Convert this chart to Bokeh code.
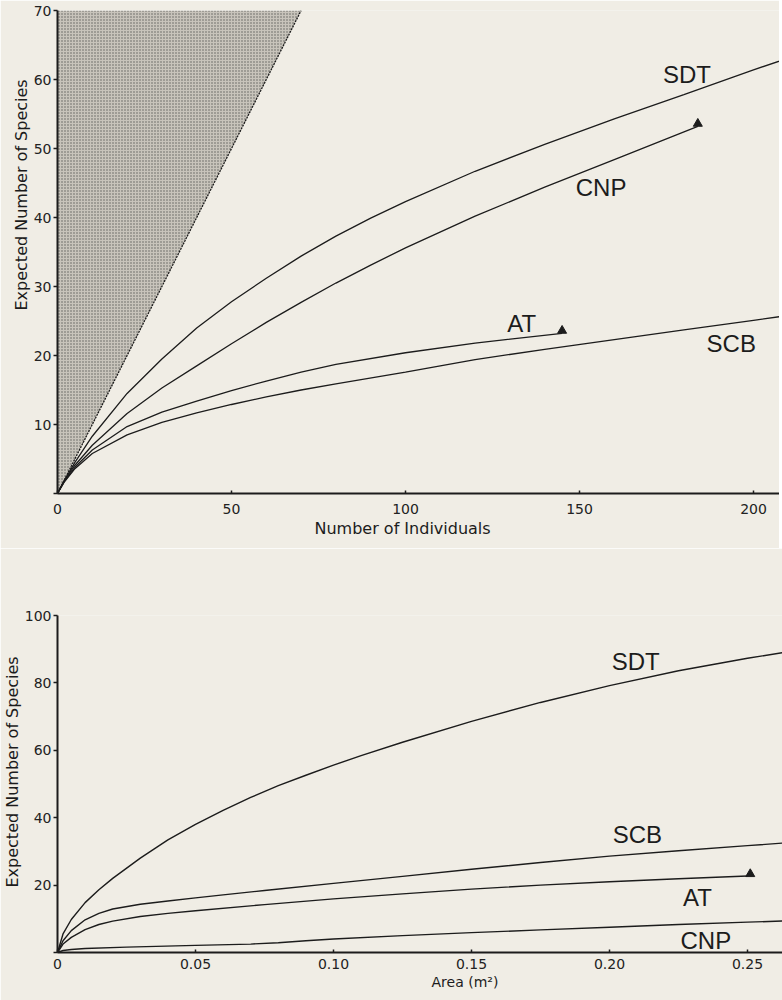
from bokeh.plotting import figure
from bokeh.layouts import column
from bokeh.models import FixedTicker, Range1d, Title
from bokeh.core.properties import value
from bokeh.embed import file_html
from bokeh.resources import INLINE

BG = "#f0ede5"
INK = "#1c1c1c"

# ---------------- Top panel: expected species vs number of individuals
sdt_n_x = [0, 2, 5, 10, 20, 30, 40, 50, 60, 70, 80, 90, 100, 120, 140, 160, 180, 200, 210]
sdt_n_y = [0, 1.9, 4.5, 8.3, 14.5, 19.5, 24.0, 27.8, 31.2, 34.4, 37.3, 39.9, 42.3, 46.7, 50.6, 54.3, 57.8, 61.4, 63.1]

cnp_n_x = [0, 2, 5, 10, 20, 30, 40, 50, 60, 70, 80, 90, 100, 120, 140, 160, 184]
cnp_n_y = [0, 1.9, 4.1, 7.0, 11.6, 15.3, 18.5, 21.7, 24.8, 27.7, 30.5, 33.1, 35.6, 40.2, 44.4, 48.4, 53.2]

at_n_x = [0, 2, 5, 10, 20, 30, 40, 50, 60, 70, 80, 100, 120, 145]
at_n_y = [0, 1.8, 3.8, 6.3, 9.7, 11.8, 13.4, 14.9, 16.3, 17.6, 18.7, 20.4, 21.8, 23.2]

scb_n_x = [0, 2, 5, 10, 20, 30, 40, 50, 60, 70, 80, 100, 120, 140, 160, 180, 200, 210]
scb_n_y = [0, 1.7, 3.6, 5.8, 8.5, 10.3, 11.7, 12.9, 14.0, 15.0, 15.9, 17.6, 19.4, 20.9, 22.3, 23.7, 25.1, 25.8]

# curve ends (triangles)
top_end_x = [184, 145]
top_end_y = [53.6, 23.6]

# region where species cannot exceed individuals (S <= N)
bound_x = [0, 70]
bound_y = [0, 70]

top_names = ["SDT", "CNP", "AT", "SCB"]
top_name_x = [180.9, 156.2, 133.4, 193.6]
top_name_y = [60.7, 44.4, 24.6, 21.7]

top_x_ticks = [0, 50, 100, 150, 200]
top_x_labels = ["0", "50", "100", "150", "200"]
top_y_ticks = [0, 10, 20, 30, 40, 50, 60, 70]
top_y_labels = ["", "10", "20", "30", "40", "50", "60", "70"]

# ---------------- Bottom panel: expected species vs area
sdt_a_x = [0, 0.002, 0.005, 0.01, 0.015, 0.02, 0.03, 0.04, 0.05, 0.06, 0.07, 0.08, 0.09, 0.10,
           0.11, 0.125, 0.15, 0.175, 0.20, 0.225, 0.25, 0.265]
sdt_a_y = [0, 5.5, 9.8, 14.8, 18.6, 22.0, 28.0, 33.4, 38.0, 42.2, 46.0, 49.5, 52.6, 55.6,
           58.4, 62.4, 68.6, 74.2, 79.2, 83.6, 87.3, 89.3]

scb_a_x = [0, 0.002, 0.005, 0.01, 0.015, 0.02, 0.03, 0.04, 0.05, 0.06, 0.075, 0.10, 0.125,
           0.15, 0.175, 0.20, 0.225, 0.25, 0.265]
scb_a_y = [0, 3.5, 6.5, 9.7, 11.6, 12.9, 14.3, 15.3, 16.2, 17.1, 18.4, 20.5, 22.6,
           24.7, 26.7, 28.6, 30.2, 31.7, 32.6]

at_a_x = [0, 0.002, 0.005, 0.01, 0.015, 0.02, 0.03, 0.04, 0.05, 0.075, 0.10, 0.125, 0.15,
          0.175, 0.20, 0.225, 0.25]
at_a_y = [0, 2.5, 4.5, 6.8, 8.3, 9.3, 10.7, 11.6, 12.4, 14.2, 15.9, 17.4, 18.8,
          20.0, 21.0, 21.9, 22.7]

cnp_a_x = [0, 0.002, 0.005, 0.01, 0.025, 0.05, 0.07, 0.08, 0.09, 0.10, 0.125, 0.15, 0.175,
           0.20, 0.225, 0.25, 0.265]
cnp_a_y = [0, 0.6, 0.9, 1.2, 1.6, 2.1, 2.5, 2.9, 3.5, 4.0, 5.0, 5.9, 6.7,
           7.5, 8.3, 9.0, 9.4]

bot_end_x = [0.251]
bot_end_y = [23.3]

bot_names = ["SDT", "SCB", "AT", "CNP"]
bot_name_x = [0.2095, 0.2101, 0.2319, 0.2349]
bot_name_y = [86.4, 34.9, 16.4, 3.6]

bot_x_ticks = [0, 0.05, 0.10, 0.15, 0.20, 0.25]
bot_x_labels = ["0", "0.05", "0.10", "0.15", "0.20", "0.25"]
bot_y_ticks = [0, 20, 40, 60, 80, 100]
bot_y_labels = ["", "20", "40", "60", "80", "100"]

TICK_FONT = "DejaVu Sans"
LABEL_FONT = "DejaVu Sans"
NAME_FONT = "Liberation Sans"


def style(p, xt, xl, yt, yl, xstand):
    p.background_fill_color = BG
    p.border_fill_color = BG
    p.outline_line_color = None
    p.grid.visible = False
    for ax in (p.xaxis[0], p.yaxis[0]):
        ax.axis_line_width = 2
        ax.axis_line_color = INK
        ax.major_tick_line_color = INK
        ax.major_tick_line_width = 1.5
        ax.minor_tick_line_color = None
        ax.major_label_text_font = TICK_FONT
        ax.major_label_text_font_size = "14px"
        ax.major_label_text_color = "#222222"
    xa = p.xaxis[0]
    xa.ticker = FixedTicker(ticks=xt)
    xa.major_label_overrides = {t: s for t, s in zip(xt, xl)}
    xa.major_tick_in = 3
    xa.major_tick_out = 0
    xa.major_label_standoff = xstand
    ya = p.yaxis[0]
    ya.ticker = FixedTicker(ticks=yt)
    ya.major_label_overrides = {t: s for t, s in zip(yt, yl)}
    ya.major_tick_in = 0
    ya.major_tick_out = 4
    ya.major_label_standoff = 2


def side_title(text, offset, size="16px"):
    return Title(text=text, align="left", offset=offset, standoff=0,
                 text_font=LABEL_FONT, text_font_size=size, text_font_style="normal",
                 text_color=INK)


# ---- top figure
p1 = figure(frame_width=726, frame_height=483, min_border_left=53, min_border_right=0,
            min_border_top=10, min_border_bottom=55, output_backend="svg",
            toolbar_location=None, x_range=Range1d(0, 726 / 3.48), y_range=Range1d(0, 70))
style(p1, top_x_ticks, top_x_labels, top_y_ticks, top_y_labels, 10)

p1.patch([bound_x[0], bound_x[1], bound_x[0]], [bound_y[0], bound_y[1], bound_y[1]],
         fill_color="#c8c4bb", line_color=None, hatch_pattern="dot", hatch_scale=3,
         hatch_color="#2a2a2a", hatch_weight=1.2, hatch_alpha=0.65)
p1.line(bound_x, bound_y, line_color=INK, line_width=1.3, line_dash="2 1")

for xs, ys in [(sdt_n_x, sdt_n_y), (cnp_n_x, cnp_n_y), (at_n_x, at_n_y), (scb_n_x, scb_n_y)]:
    p1.line(xs, ys, line_color=INK, line_width=1.3)
p1.scatter(top_end_x, top_end_y, marker="triangle", size=9, fill_color=INK, line_color=INK)
p1.text(x=top_name_x, y=top_name_y, text=top_names, text_font=value(NAME_FONT),
        text_font_size="24px", text_align="center", text_baseline="middle", text_color=INK)

p1.add_layout(side_title("Expected Number of Species", 183), "left")
p1.add_layout(side_title("Number of Individuals", 257), "below")

# ---- bottom figure
p2 = figure(frame_width=726, frame_height=337, min_border_left=55, min_border_right=0,
            min_border_top=67, min_border_bottom=48, output_backend="svg",
            toolbar_location=None, x_range=Range1d(0, 726 / 2760), y_range=Range1d(0, 100))
style(p2, bot_x_ticks, bot_x_labels, bot_y_ticks, bot_y_labels, 6)

for xs, ys in [(sdt_a_x, sdt_a_y), (scb_a_x, scb_a_y), (at_a_x, at_a_y), (cnp_a_x, cnp_a_y)]:
    p2.line(xs, ys, line_color=INK, line_width=1.4)
p2.scatter(bot_end_x, bot_end_y, marker="triangle", size=9, fill_color=INK, line_color=INK)
p2.text(x=bot_name_x, y=bot_name_y, text=bot_names, text_font=value(NAME_FONT),
        text_font_size="24px", text_align="center", text_baseline="middle", text_color=INK)

p2.add_layout(side_title("Expected Number of Species", 65), "left")
p2.add_layout(side_title("Area (m²)", 374, "14px"), "below")

layout = column(p1, p2, spacing=0)
open("out.html", "w").write(file_html(layout, INLINE))
